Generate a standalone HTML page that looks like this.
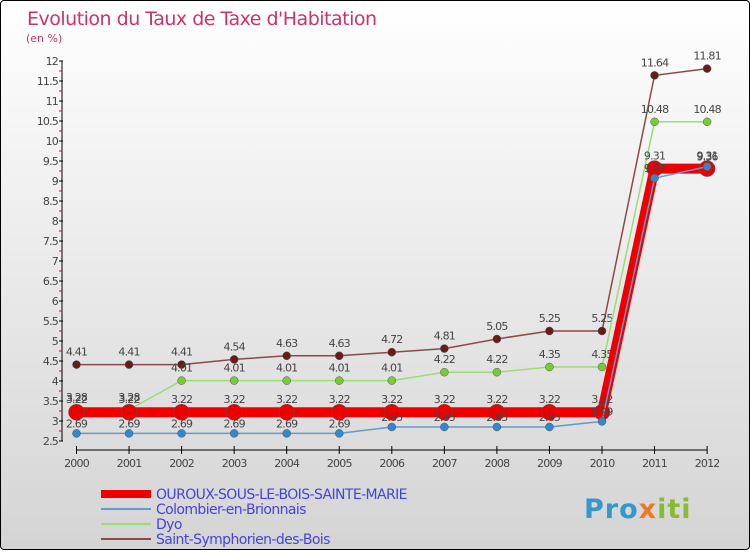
<!DOCTYPE html>
<html><head><meta charset="utf-8"><style>
html,body{margin:0;padding:0}
body{width:750px;height:550px;overflow:hidden;font-family:"DejaVu Sans","Liberation Sans",sans-serif}
#wrap{position:absolute;left:0;top:0;width:748px;height:548px;border:1px solid #000;border-radius:4px;background:linear-gradient(#ffffff,#d4d4d4)}
svg text{font-family:"DejaVu Sans","Liberation Sans",sans-serif}
</style></head><body>
<div id="wrap">
<svg id="chart" width="750" height="550">
<text x="26" y="24" font-size="19" fill="#cc3366" letter-spacing="-0.5">Evolution du Taux de Taxe d'Habitation</text>
<text x="25" y="41" font-size="11" fill="#cc3366">(en %)</text>
<g id="axes"></g><g id="series"></g><g id="legend"></g>
<g>
<text x="583" y="517" font-size="27" font-weight="bold" fill="#3399cc" letter-spacing="1">Pro<tspan fill="#ee7722">x</tspan><tspan fill="#88bb33">iti</tspan></text>
</g>
</svg></div>
<script>
const years=[2000,2001,2002,2003,2004,2005,2006,2007,2008,2009,2010,2011,2012];
const ouroux=[3.22,3.22,3.22,3.22,3.22,3.22,3.22,3.22,3.22,3.22,3.22,9.31,9.31];
const colombier=[2.69,2.69,2.69,2.69,2.69,2.69,2.85,2.85,2.85,2.85,2.99,9.07,9.36];
const dyo=[3.28,3.28,4.01,4.01,4.01,4.01,4.01,4.22,4.22,4.35,4.35,10.48,10.48];
const symph=[4.41,4.41,4.41,4.54,4.63,4.63,4.72,4.81,5.05,5.25,5.25,11.64,11.81];
const yTicks=[2.5,3,3.5,4,4.5,5,5.5,6,6.5,7,7.5,8,8.5,9,9.5,10,10.5,11,11.5,12];
const NS="http://www.w3.org/2000/svg";
const X=i=>75.5+i*52.55;
const Y=v=>440-(v-2.5)*40;
function mk(tag,attrs,parent,txt){const e=document.createElementNS(NS,tag);for(const k in attrs)e.setAttribute(k,attrs[k]);if(txt!==undefined)e.textContent=txt;parent.appendChild(e);return e;}
const axes=document.getElementById('axes');
let yl=mk('line',{x1:61,y1:Y(12),x2:61,y2:Y(2.5),stroke:'#000','stroke-width':1},axes);


yTicks.forEach(v=>{
  mk('line',{x1:58,y1:Y(v),x2:62,y2:Y(v),stroke:'#000'},axes);
  mk('line',{x1:58,y1:Y(v+0.25),x2:61,y2:Y(v+0.25),stroke:v<12?'#e00':'none'},axes);
  const t=mk('text',{x:57,y:Y(v)+4,'font-size':11,fill:'#444','text-anchor':'end','letter-spacing':'-0.8'},axes,String(v));
  
  
});
let xl=mk('line',{x1:X(0),y1:449,x2:X(12),y2:449,stroke:'#000'},axes);


years.forEach((yr,i)=>{
  mk('line',{x1:X(i),y1:445,x2:X(i),y2:453,stroke:'#000'},axes);
  const t=mk('text',{x:X(i),y:466,'font-size':11,fill:'#444','text-anchor':'middle','letter-spacing':'-0.8'},axes,String(yr));
  
  
});
const series=document.getElementById('series');
function draw(vals,color,w,r,fill,name,labelBelow){
  const g=mk('g',{},series);
  
  
  const p=mk('polyline',{points:vals.map((v,i)=>X(i)+','+Y(v)).join(' '),fill:'none',stroke:color,'stroke-width':w},g);
  
  
  vals.forEach((v,i)=>{
    const c=mk('circle',{cx:X(i),cy:Y(v),r:r,fill:fill,stroke:'#555','stroke-width':0.5},g);
    
    
    const t=mk('text',{x:X(i),y:labelBelow?Y(v)-6:Y(v)-9,'font-size':11,fill:'#444','text-anchor':'middle','letter-spacing':'-0.8'},g,String(v));
    
    
  });
}
draw(symph,'#8b4a4a',1.5,4,'#6b1a1a','symphorien');
draw(dyo,'#99dd77',1.5,4,'#77cc33','dyo');
draw(ouroux,'#ee0000',10,8,'#ee0000','ouroux');
draw(colombier,'#6699cc',1.5,4,'#3388cc','colombier',true);
const legend=document.getElementById('legend');
const items=[['OUROUX-SOUS-LE-BOIS-SAINTE-MARIE','#ee0000',8],['Colombier-en-Brionnais','#6699cc',2],['Dyo','#99dd77',2],['Saint-Symphorien-des-Bois','#8b4a4a',2]];
items.forEach((it,k)=>{
  const y=493+k*15;
  const g=mk('g',{},legend);
  
  
  mk('line',{x1:100,y1:y,x2:150,y2:y,stroke:it[1],'stroke-width':it[2]},g);
  mk('text',{x:155,y:y+5,'font-size':14,fill:'#4444dd','letter-spacing':'-0.6'},g,it[0]);
});
</script>
</body></html>
